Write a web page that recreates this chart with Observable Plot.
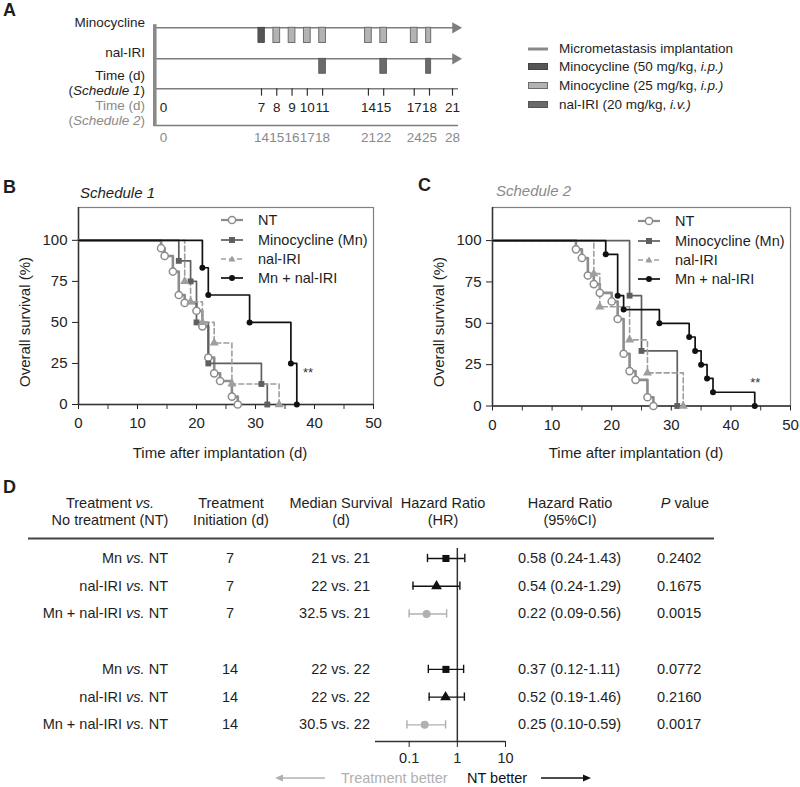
<!DOCTYPE html>
<html><head><meta charset="utf-8">
<script src="https://cdn.jsdelivr.net/npm/d3@7"></script>
<script src="https://cdn.jsdelivr.net/npm/@observablehq/plot@0.6"></script>
<style>
html,body{margin:0;padding:0;background:#fff;}
#fig{position:relative;width:800px;height:787px;overflow:hidden;font-family:"Liberation Sans",Arial,Helvetica,sans-serif;color:#1e1e1e;}
#fig svg{position:absolute;overflow:visible;}
.t{position:absolute;white-space:nowrap;line-height:1;}
</style></head><body><div id="fig"></div>
<script>
// ================= DATA =================
// Panel A: treatment schedules (days)
const sched1Days = [0, 7, 8, 9, 10, 11, 14, 15, 17, 18, 21];
const sched2Days = [0, 14, 15, 16, 17, 18, 21, 22, 24, 25, 28];
const sched1TickDays = [7, 8, 9, 10, 11, 14, 15, 17, 18, 21];
const mino50Days = [7];
const mino25Days = [8, 9, 10, 11, 14, 15, 17, 18];
const nalIriDays = [11, 15, 18];
const timelineRows = ["Minocycline", "nal-IRI", "Schedule 1", "Schedule 2"];
const legendALabels = ["Micrometastasis implantation", "Minocycline (50 mg/kg, <i>i.p.)</i>", "Minocycline (25 mg/kg, <i>i.p.)</i>", "nal-IRI (20 mg/kg, <i>i.v.)</i>"];

// Panels B/C: Kaplan-Meier curves (day, % survival)
const seriesNames = ["NT", "Minocycline (Mn)", "nal-IRI", "Mn + nal-IRI"];
const s1_NT_day    = [0, 14, 14.6, 16, 17, 18, 20, 21, 22, 23, 24, 26, 27];
const s1_NT_surv   = [100, 95.2, 90.5, 81.0, 66.7, 61.9, 57.1, 47.6, 28.6, 19.0, 14.3, 4.8, 0];
const s1_Mn_day    = [0, 17, 19, 20, 22, 31, 32];
const s1_Mn_surv   = [100, 87.5, 75, 50, 25, 12.5, 0];
const s1_Nal_day   = [0, 18, 19, 21, 23, 26, 34];
const s1_Nal_surv  = [100, 75, 62.5, 50, 37.5, 12.5, 0];
const s1_Comb_day  = [0, 21, 22, 29, 36, 37];
const s1_Comb_surv = [100, 83.3, 66.7, 50, 25, 0];

const s2_NT_day    = [0, 14, 15, 16, 17, 18, 20, 21, 22, 23, 24, 26, 27];
const s2_NT_surv   = [100, 94.7, 89.5, 78.9, 73.7, 68.4, 63.2, 52.6, 31.6, 21.1, 15.8, 5.3, 0];
const s2_Mn_day    = [0, 23, 25, 31];
const s2_Mn_surv   = [100, 66.7, 33.3, 0];
const s2_Nal_day   = [0, 17, 18, 23, 26, 32];
const s2_Nal_surv  = [100, 80, 60, 40, 20, 0];
const s2_Comb_day  = [0, 19, 21, 22, 28, 33, 34, 35, 36, 37, 44];
const s2_Comb_surv = [100, 91.7, 66.7, 58.3, 50, 41.7, 33.3, 25, 16.7, 8.3, 0];

const sigB = {day: 38.9, surv: 19, label: "**"};
const sigC = {day: 44.1, surv: 14, label: "**"};
const xMajorTicks = [0, 10, 20, 30, 40, 50];
const xMinorTicks = [5, 15, 25, 35, 45];
const yTicks = [0, 25, 50, 75, 100];

// Panel D: forest table
const dRowPos    = [0, 1, 2, 4, 5, 6];
const dCompare   = ["Mn", "nal-IRI", "Mn + nal-IRI", "Mn", "nal-IRI", "Mn + nal-IRI"];
const dInit      = ["7", "7", "7", "14", "14", "14"];
const dMedian    = ["21 vs. 21", "22 vs. 21", "32.5 vs. 21", "22 vs. 22", "22 vs. 22", "30.5 vs. 22"];
const dHrCiText  = ["0.58 (0.24-1.43)", "0.54 (0.24-1.29)", "0.22 (0.09-0.56)", "0.37 (0.12-1.11)", "0.52 (0.19-1.46)", "0.25 (0.10-0.59)"];
const dPText     = ["0.2402", "0.1675", "0.0015", "0.0772", "0.2160", "0.0017"];
const dHrDrawn   = [0.58, 0.37, 0.23, 0.58, 0.57, 0.21];
const dLoDrawn   = [0.24, 0.12, 0.10, 0.25, 0.26, 0.09];
const dHiDrawn   = [1.43, 1.13, 0.60, 1.35, 1.40, 0.57];
const dSymbol    = ["square", "triangle", "circle", "square", "triangle", "circle"];
const hrTicks    = [0.1, 1, 10];

// ================= HELPERS =================
const FONT = '"Liberation Sans", Arial, Helvetica, sans-serif';
const fig = document.getElementById("fig");
function txt(html, x, y, o = {}) {
  const d = document.createElement("div");
  d.className = "t";
  d.innerHTML = html;
  const a = o.anchor || "start";
  const tx = a === "middle" ? "-50%" : a === "end" ? "-100%" : "0";
  d.style.left = x + "px"; d.style.top = y + "px";
  d.style.transform = `translate(${tx},-50%)` + (o.rotate ? ` rotate(${o.rotate}deg)` : "");
  d.style.fontSize = (o.size || 14.5) + "px";
  if (o.color) d.style.color = o.color;
  if (o.weight) d.style.fontWeight = o.weight;
  if (o.italic) d.style.fontStyle = "italic";
  fig.appendChild(d);
  return d;
}
function place(svg, left, top) { svg.style.left = left + "px"; svg.style.top = top + "px"; fig.appendChild(svg); }
function rawSvg(s) { fig.insertAdjacentHTML("beforeend", s); }

const seriesStyle = {
  "NT":               {stroke: "#8c8c8c", sw: 2.6, dash: null,  symbol: "circle",   fill: "white",   mstroke: "#8c8c8c", r: 3.6},
  "Minocycline (Mn)": {stroke: "#5f5f5f", sw: 1.7, dash: null,  symbol: "square",   fill: "#5f5f5f", mstroke: "none",    r: 3.3},
  "nal-IRI":          {stroke: "#9e9e9e", sw: 1.6, dash: "5,3", symbol: "triangle", fill: "#9e9e9e", mstroke: "none",    r: 3.4},
  "Mn + nal-IRI":     {stroke: "#111111", sw: 1.7, dash: null,  symbol: "circle",   fill: "#111111", mstroke: "none",    r: 3.0}
};

// ================= PANEL A =================
const xDomA = [-0.6, 0, 7, 18, 21, 21.5];
const xRangeA = [154.3, 163, 261, 429, 452, 458];
const rowIdx = name => timelineRows.indexOf(name);
const arrowRows = [rowIdx("Minocycline"), rowIdx("nal-IRI")];
const plotA = Plot.plot({
  width: 480, height: 145, marginLeft: 154, marginRight: 22, marginTop: 0, marginBottom: 0,
  x: {type: "linear", domain: xDomA, range: xRangeA, axis: null},
  y: {type: "linear", domain: [0, 1, 2, 3], range: [27.3, 58.3, 88.3, 125], axis: null},
  style: {fontFamily: FONT, fontSize: "13.5px", background: "transparent", overflow: "visible"},
  marks: [
    Plot.ruleY(timelineRows.map((_, i) => i), {y: d => d, stroke: "#7d7d7d", strokeWidth: 1.4}),
    Plot.dot(arrowRows, {x: () => xDomA[xDomA.length - 1], y: d => d, dx: -3, symbol: "triangle", r: 4.2, rotate: 90, fill: "#7d7d7d", stroke: "none"}),
    Plot.ruleX([xDomA[0]], {y1: () => -0.1, y2: () => 3.03, stroke: "#8a8a8a", strokeWidth: 3.6}),
    Plot.rect(mino50Days, {x1: d => d - 0.22, x2: d => d + 0.22, y1: () => rowIdx("Minocycline"), y2: () => rowIdx("Minocycline") + 0.49, fill: "#555", stroke: "#444", strokeWidth: 0.8}),
    Plot.rect(mino25Days, {x1: d => d - 0.22, x2: d => d + 0.22, y1: () => rowIdx("Minocycline"), y2: () => rowIdx("Minocycline") + 0.49, fill: "#b3b3b3", stroke: "#6e6e6e", strokeWidth: 1}),
    Plot.rect(nalIriDays, {x1: d => d - 0.22, x2: d => d + 0.22, y1: () => rowIdx("nal-IRI"), y2: () => rowIdx("nal-IRI") + 0.5, fill: "#6a6a6a", stroke: "#555", strokeWidth: 0.8}),
    Plot.ruleX(sched1TickDays, {x: d => d, y1: () => rowIdx("Schedule 1"), y2: () => rowIdx("Schedule 1") + 0.2, stroke: "#333", strokeWidth: 1.2}),
    Plot.text(sched1Days, {x: d => d, y: () => rowIdx("Schedule 1"), dy: 18.5, text: d => String(d), fill: "#222", fontSize: 13.5}),
    Plot.text(sched2Days, {x: (d, i) => sched1Days[i], y: () => rowIdx("Schedule 2"), dy: 12.5, text: d => String(d), fill: "#8a8a8a", fontSize: 13.5})
  ]
});
place(plotA, 0, 0);

txt("A", 3, 10, {size: 18, weight: "bold"});
txt("Minocycline", 145, 23.3, {anchor: "end", size: 13.5});
txt("nal-IRI", 145, 53.3, {anchor: "end", size: 13.5});
txt("Time (d)", 145, 76.4, {anchor: "end", size: 13.5});
txt("(<i>Schedule 1</i>)", 145, 90.6, {anchor: "end", size: 13.5});
txt("Time (d)", 145, 106.4, {anchor: "end", size: 13.5, color: "#8a8a8a"});
txt("(<i>Schedule 2</i>)", 145, 120.8, {anchor: "end", size: 13.5, color: "#8a8a8a"});

// Panel A legend
const legAy = [49, 66.7, 85.5, 104.5];
rawSvg(`<svg width="20" height="6" style="left:528px;top:${legAy[0]-3}px"><line x1="0" y1="3" x2="20" y2="3" stroke="#8a8a8a" stroke-width="3"/></svg>`);
rawSvg(`<svg width="20" height="7" style="left:528px;top:${legAy[1]-3.5}px"><rect x="0.5" y="0.5" width="19" height="6" fill="#555" stroke="#444"/></svg>`);
rawSvg(`<svg width="20" height="7" style="left:528px;top:${legAy[2]-3.5}px"><rect x="0.5" y="0.5" width="19" height="6" fill="#b3b3b3" stroke="#6e6e6e"/></svg>`);
rawSvg(`<svg width="20" height="7" style="left:528px;top:${legAy[3]-3.5}px"><rect x="0.5" y="0.5" width="19" height="6" fill="#6a6a6a" stroke="#555"/></svg>`);
legendALabels.forEach((l, i) => txt(l, 559, legAy[i], {size: 13.5}));

// ================= PANELS B & C =================
function symbolSvg(st, w) {
  const c = w / 2;
  let m = "";
  if (st.symbol === "circle") m = `<circle cx="${c}" cy="6" r="${st.r}" fill="${st.fill}" stroke="${st.mstroke}" stroke-width="1.5"/>`;
  else if (st.symbol === "square") m = `<rect x="${c - 3}" y="3" width="6" height="6" fill="${st.fill}"/>`;
  else m = `<path d="M${c},2.5 L${c + 3.5},8.5 L${c - 3.5},8.5 Z" fill="${st.fill}"/>`;
  return `<line x1="0" y1="6" x2="${w}" y2="6" stroke="${st.stroke}" stroke-width="${Math.min(st.sw, 2.2)}" ${st.dash ? `stroke-dasharray="${st.dash}"` : ""}/>` + m;
}

function survPlot(sets, sig, dims) {
  const marks = [
    Plot.frame({stroke: "#808080", strokeWidth: 1.2}),
    Plot.axisX(xMinorTicks, {tickSize: 5, tickFormat: () => "", color: "#333"}),
    Plot.axisX(xMajorTicks, {tickSize: 5, tickPadding: 8, fontSize: 15, color: "#222"}),
    Plot.axisY(yTicks, {tickSize: 6, tickPadding: 5, fontSize: 15, color: "#222"}),
    Plot.ruleX([0], {stroke: "#333", strokeWidth: 1.5}),
    Plot.ruleY([0], {stroke: "#333", strokeWidth: 1.5})
  ];
  for (const s of sets) {
    const st = seriesStyle[s.name];
    const pts = s.day.map((d, i) => ({day: d, surv: s.surv[i]}));
    marks.push(Plot.line(pts, {x: "day", y: "surv", curve: "step-after", stroke: st.stroke, strokeWidth: st.sw, strokeDasharray: st.dash || undefined}));
  }
  for (const s of sets) {
    const st = seriesStyle[s.name];
    const pts = s.day.map((d, i) => ({day: d, surv: s.surv[i]})).slice(1);
    marks.push(Plot.dot(pts, {x: "day", y: "surv", symbol: st.symbol, r: st.r, fill: st.fill, stroke: st.mstroke, strokeWidth: 1.5}));
  }
  marks.push(Plot.text([sig], {x: "day", y: "surv", text: "label", fontSize: 13, fill: "#333"}));
  return Plot.plot({
    width: dims.width, height: dims.height,
    marginLeft: dims.mL, marginRight: dims.mR, marginTop: dims.mT, marginBottom: dims.mB,
    x: {domain: [0, 50], label: null},
    y: {domain: [0, 120], label: null},
    style: {fontFamily: FONT, fontSize: "15px", background: "transparent", overflow: "visible", color: "#222"},
    marks
  });
}

const setsB = [
  {name: "NT", day: s1_NT_day, surv: s1_NT_surv},
  {name: "Minocycline (Mn)", day: s1_Mn_day, surv: s1_Mn_surv},
  {name: "nal-IRI", day: s1_Nal_day, surv: s1_Nal_surv},
  {name: "Mn + nal-IRI", day: s1_Comb_day, surv: s1_Comb_surv}
];
const setsC = [
  {name: "NT", day: s2_NT_day, surv: s2_NT_surv},
  {name: "Minocycline (Mn)", day: s2_Mn_day, surv: s2_Mn_surv},
  {name: "nal-IRI", day: s2_Nal_day, surv: s2_Nal_surv},
  {name: "Mn + nal-IRI", day: s2_Comb_day, surv: s2_Comb_surv}
];
place(survPlot(setsB, sigB, {width: 400, height: 270, mL: 78, mR: 27, mT: 12, mB: 61}), 0, 195);
place(survPlot(setsC, sigC, {width: 386, height: 270, mL: 78, mR: 10, mT: 12, mB: 59.5}), 414, 195);

txt("B", 3, 187, {size: 18, weight: "bold"});
txt("C", 418, 185, {size: 18, weight: "bold"});
txt("Schedule 1", 80, 192, {size: 15, italic: true});
txt("Schedule 2", 496, 190, {size: 15, italic: true, color: "#8a8a8a"});
txt("Overall survival (%)", 24, 322, {anchor: "middle", size: 15, rotate: -90});
txt("Overall survival (%)", 438, 322, {anchor: "middle", size: 15, rotate: -90});
txt("Time after implantation (d)", 220, 452, {anchor: "middle", size: 15});
txt("Time after implantation (d)", 636, 452, {anchor: "middle", size: 15});

function legendKM(symX, textX, ys) {
  seriesNames.forEach((n, i) => {
    rawSvg(`<svg width="22" height="12" style="left:${symX}px;top:${ys[i] - 6}px">${symbolSvg(seriesStyle[n], 22)}</svg>`);
    txt(n, textX, ys[i], {size: 14.5});
  });
}
legendKM(221, 258, [220, 239.5, 258.5, 277.5]);
legendKM(638, 675, [221, 240.5, 259.5, 278.5]);

// ================= PANEL D =================
const dRows = dRowPos.map((r, i) => ({row: r, hr: dHrDrawn[i], lo: dLoDrawn[i], hi: dHiDrawn[i], sym: dSymbol[i], col: dSymbol[i] === "circle" ? "#b0b0b0" : "#111"}));
const yDomD = [-0.36, 6.6];
const darkRows = dRows.filter(d => d.col === "#111");
const greyRows = dRows.filter(d => d.col !== "#111");
const ciMarks = (rows, col) => [
  Plot.ruleY(rows, {y: "row", x1: "lo", x2: "hi", stroke: col, strokeWidth: 1.4}),
  Plot.ruleX(rows, {x: "lo", y1: d => d.row - 0.15, y2: d => d.row + 0.15, stroke: col, strokeWidth: 1.4}),
  Plot.ruleX(rows, {x: "hi", y1: d => d.row - 0.15, y2: d => d.row + 0.15, stroke: col, strokeWidth: 1.4})
];
const plotD = Plot.plot({
  width: 800, height: 257, marginTop: 18, marginBottom: 46, marginLeft: 375, marginRight: 295,
  x: {type: "log", domain: [0.02, 10], label: null},
  y: {domain: yDomD, reverse: true, axis: null, label: null},
  style: {fontFamily: FONT, fontSize: "14.5px", background: "transparent", overflow: "visible", color: "#222"},
  marks: [
    Plot.ruleX([1], {stroke: "#333", strokeWidth: 1.5}),
    Plot.ruleY([yDomD[1]], {stroke: "#333", strokeWidth: 1.5}),
    Plot.axisX(hrTicks, {tickSize: 6, tickPadding: 5, tickFormat: d => String(d), fontSize: 14.5, color: "#222"}),
    ...ciMarks(darkRows, "#111"),
    ...ciMarks(greyRows, "#b0b0b0"),
    Plot.dot(dRows.filter(d => d.sym === "square"), {x: "hr", y: "row", symbol: "square", r: 4, fill: "#111"}),
    Plot.dot(dRows.filter(d => d.sym === "triangle"), {x: "hr", y: "row", symbol: "triangle", r: 4, fill: "#111"}),
    Plot.dot(dRows.filter(d => d.sym === "circle"), {x: "hr", y: "row", symbol: "circle", r: 4, fill: "#b0b0b0"})
  ]
});
place(plotD, 0, 530);
const yD = plotD.scale("y");
const rowY = r => 530 + yD.apply(r);

txt("D", 3, 487, {size: 18, weight: "bold"});
const hdr1 = 503, hdr2 = 520;
txt("Treatment <i>vs.</i>", 110, hdr1, {anchor: "middle"});
txt("No treatment (NT)", 110, hdr2, {anchor: "middle"});
txt("Treatment", 231, hdr1, {anchor: "middle"});
txt("Initiation (d)", 231, hdr2, {anchor: "middle"});
txt("Median Survival", 341, hdr1, {anchor: "middle"});
txt("(d)", 341, hdr2, {anchor: "middle"});
txt("Hazard Ratio", 443, hdr1, {anchor: "middle"});
txt("(HR)", 443, hdr2, {anchor: "middle"});
txt("Hazard Ratio", 570, hdr1, {anchor: "middle"});
txt("(95%CI)", 570, hdr2, {anchor: "middle"});
txt("<i>P</i> value", 685, hdr1, {anchor: "middle"});
rawSvg(`<svg width="686" height="3" style="left:28px;top:537px"><line x1="0" y1="1.5" x2="686" y2="1.5" stroke="#444" stroke-width="2"/></svg>`);

dRowPos.forEach((r, i) => {
  const y = rowY(r);
  txt(`${dCompare[i]} <i>vs.</i> NT`, 168, y, {anchor: "end"});
  txt(dInit[i], 230, y, {anchor: "middle"});
  txt(dMedian[i], 370, y, {anchor: "end"});
  txt(dHrCiText[i], 518, y);
  txt(dPText[i], 657, y);
});

// bottom direction arrows
rawSvg(`<svg width="50" height="10" style="left:275px;top:773px"><line x1="5" y1="5" x2="50" y2="5" stroke="#b0b0b0" stroke-width="1.5"/><path d="M0,5 L8,1.5 L8,8.5 Z" fill="#b0b0b0"/></svg>`);
txt("Treatment better", 341, 778, {color: "#b0b0b0"});
txt("NT better", 467, 778, {color: "#111"});
rawSvg(`<svg width="50" height="10" style="left:541px;top:773px"><line x1="0" y1="5" x2="45" y2="5" stroke="#111" stroke-width="1.5"/><path d="M50,5 L42,1.5 L42,8.5 Z" fill="#111"/></svg>`);
</script></body></html>
